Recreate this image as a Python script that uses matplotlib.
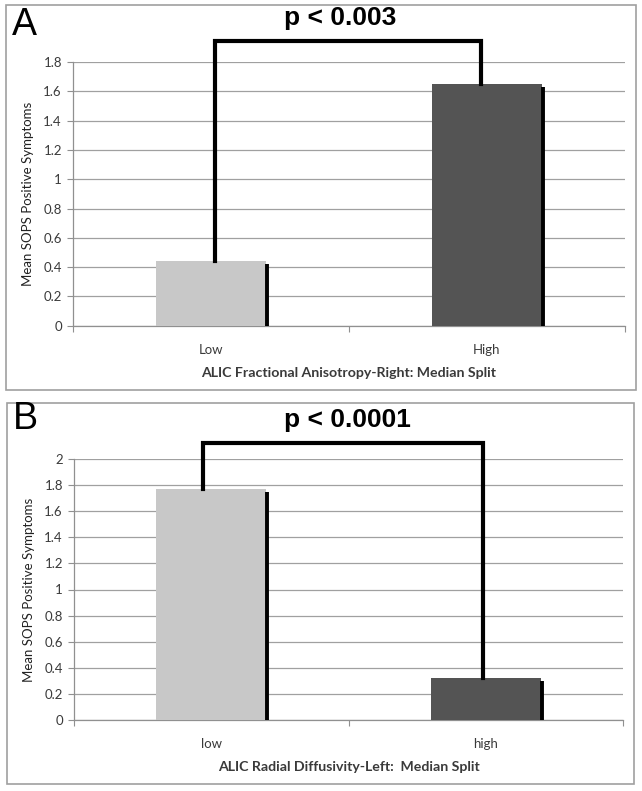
import numpy as np
import matplotlib
matplotlib.use("Agg")
import matplotlib.pyplot as plt
from matplotlib.patches import Rectangle

# data
cats_a = ["Low", "High"]
vals_a = [0.44, 1.65]
cats_b = ["low", "high"]
vals_b = [1.77, 0.32]
bar_colors = ["#c8c8c8", "#545454"]

ylim_a = 1.8
ylim_b = 2.0
yticks_a = [0, 0.2, 0.4, 0.6, 0.8, 1, 1.2, 1.4, 1.6, 1.8]
yticks_b = [0, 0.2, 0.4, 0.6, 0.8, 1, 1.2, 1.4, 1.6, 1.8, 2]

# bracket: x of left/right legs, height of top bar
bracket_a = {"x": (0.015, 0.98), "top": 1.94}
bracket_b = {"x": (-0.03, 0.99), "top": 2.12}

xlabel_a = "ALIC Fractional Anisotropy-Right: Median Split"
xlabel_b = "ALIC Radial Diffusivity-Left:  Median Split"
ylabel = "Mean SOPS Positive Symptoms"

W, H = 642, 791
fig = plt.figure(figsize=(W / 100, H / 100), dpi=100)

tick_font = "Lato"
grid_c = "#a0a0a0"
text_c = "#3a3a3a"


def px_box(left, right, top, bottom):
    return [left / W, 1 - bottom / H, (right - left) / W, (bottom - top) / H]


def fmt(v):
    return "0" if v == 0 else ("%g" % v)


def draw_panel(ax, cats, vals, ymax, yticks, bracket, xlabel, shadow_drop):
    x = np.arange(len(cats))
    width = 0.4
    ax.bar(x, vals, width=width, color=bar_colors, zorder=3)
    # dark shadow on the right edge of each bar
    for xi, v in zip(x, vals):
        ax.plot([xi + width / 2 + 0.004] * 2, [0, v - shadow_drop],
                color="black", lw=2.8, solid_capstyle="butt", zorder=4)
    # significance bracket
    xl, xr = bracket["x"]
    ax.plot([xl, xl, xr, xr], [vals[0], bracket["top"], bracket["top"], vals[1]],
            color="black", lw=3.0, solid_joinstyle="miter", zorder=5, clip_on=False)

    ax.set_xlim(-0.5, 1.5)
    ax.set_ylim(0, ymax)
    ax.set_yticks(yticks)
    ax.set_yticklabels([fmt(t) for t in yticks], fontfamily=tick_font,
                       fontsize=9.5, color=text_c)
    ax.yaxis.grid(True, color=grid_c, lw=0.9, zorder=0)
    ax.set_axisbelow(True)
    ax.tick_params(axis="y", length=4, width=0.8, color="#909090", pad=4)

    ax.set_xticks(x)
    ax.set_xticklabels(cats, fontfamily=tick_font, fontsize=9.5, color=text_c)
    ax.set_xticks([-0.5, 0.5, 1.5], minor=True)
    ax.tick_params(axis="x", which="major", length=0, pad=13)
    ax.tick_params(axis="x", which="minor", length=4, width=0.8, color="#909090")

    for s in ["top", "right"]:
        ax.spines[s].set_visible(False)
    for s in ["left", "bottom"]:
        ax.spines[s].set_color("#909090")
        ax.spines[s].set_linewidth(0.9)

    ax.set_xlabel(xlabel, fontfamily=tick_font, fontsize=10.2, fontweight="bold",
                  color=text_c, labelpad=8)
    ax.set_ylabel(ylabel, fontfamily=tick_font, fontsize=9.5, color="#222222",
                  labelpad=7)


ax_a = fig.add_axes(px_box(73, 625, 62, 325.7))
draw_panel(ax_a, cats_a, vals_a, ylim_a, yticks_a, bracket_a, xlabel_a, 0.02)

ax_b = fig.add_axes(px_box(74, 623, 459, 720))
draw_panel(ax_b, cats_b, vals_b, ylim_b, yticks_b, bracket_b, xlabel_b, 0.023)

# panel frames
for (l, t, r, b) in [(6, 5, 636, 390), (7, 403, 634, 784)]:
    fig.patches.append(Rectangle((l / W, 1 - b / H), (r - l) / W, (b - t) / H,
                                 transform=fig.transFigure, fill=False,
                                 edgecolor="#a0a0a0", lw=1.2, zorder=0))

# panel letters and p-values
fig.text(12 / W, 1 - 35 / H, "A", fontsize=27, fontfamily="Liberation Sans",
         ha="left", va="baseline")
fig.text(13 / W, 1 - 429 / H, "B", fontsize=27, fontfamily="Liberation Sans",
         ha="left", va="baseline")
fig.text(340 / W, 1 - 25 / H, "p < 0.003", fontsize=19, fontweight="bold",
         fontfamily="Liberation Sans", ha="center", va="baseline")
fig.text(347 / W, 1 - 427 / H, "p < 0.0001", fontsize=19, fontweight="bold",
         fontfamily="Liberation Sans", ha="center", va="baseline")

fig.savefig("out.png", dpi=100)
